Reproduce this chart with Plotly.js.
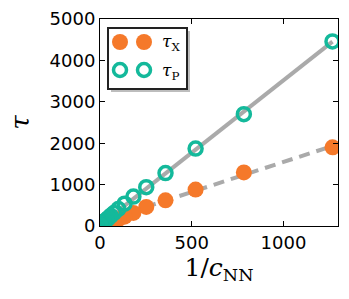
<!DOCTYPE html>
<html>
<head>
<meta charset="utf-8">
<script src="https://cdn.plot.ly/plotly-3.0.1.min.js"></script>
<style>html,body{margin:0;padding:0;background:#fff;}#chart{width:349px;height:299px;}</style>
</head>
<body>
<div id="chart"></div>
<script>
// Data
const invC = [1267, 784, 521, 357, 252, 182, 134, 100, 76, 58, 45, 35, 27, 21, 16, 12, 9, 7, 5, 3.5, 2.5, 1.5];
const tauX = [1900, 1294, 880, 620, 460, 315, 225, 165, 125, 95, 73, 57, 44, 34, 26, 20, 15, 11, 8, 6, 4, 2.5];
const tauP = [4459, 2701, 1869, 1279, 939, 711, 540, 410, 315, 245, 190, 150, 117, 92, 72, 56, 43, 34, 25, 18, 13, 8];
const fitPX = [0, 1267];
const fitPY = [20, 4455];
const fitXX = [60, 1267];
const fitXY = [184, 1934];
const xTicks = [0, 500, 1000];
const yTicks = [0, 1000, 2000, 3000, 4000, 5000];

const orange = '#f5792a';
const teal = '#14b99b';
const grey = '#aaaaaa';

const traces = [
  {x: fitPX, y: fitPY, mode: 'lines', line: {color: grey, width: 4}, showlegend: false, hoverinfo: 'skip'},
  {x: fitXX, y: fitXY, mode: 'lines', line: {color: grey, width: 4, dash: '11px,7px'}, showlegend: false, hoverinfo: 'skip'},
  {x: invC, y: tauX, mode: 'markers', marker: {color: orange, size: 16, line: {width: 0}}, showlegend: false},
  {x: invC, y: tauP, mode: 'markers', marker: {color: teal, size: 13, symbol: 'circle-open', line: {color: teal, width: 3.5}}, showlegend: false}
];

// plot area geometry (pixels)
const L = 100, R = 11, T = 19, B = 73, W = 349, H = 299;
const pw = W - L - R, ph = H - T - B;
const px = v => (v - L) / pw;
const py = v => (H - B - v) / ph;

const shapes = [
  {type: 'rect', xref: 'paper', yref: 'paper', x0: px(111), x1: px(190), y0: py(92), y1: py(31), fillcolor: '#bdbdbd', line: {width: 0}},
  {type: 'rect', xref: 'paper', yref: 'paper', x0: px(108), x1: px(187), y0: py(89), y1: py(28), fillcolor: '#ffffff', line: {color: '#222', width: 2}},
];
[120, 144].forEach(cx => {
  shapes.push({type: 'circle', xref: 'paper', yref: 'paper', xsizemode: 'pixel', ysizemode: 'pixel',
    xanchor: px(cx), yanchor: py(42), x0: -8, x1: 8, y0: -8, y1: 8, fillcolor: orange, line: {width: 0}});
  shapes.push({type: 'circle', xref: 'paper', yref: 'paper', xsizemode: 'pixel', ysizemode: 'pixel',
    xanchor: px(cx), yanchor: py(70), x0: -6.5, x1: 6.5, y0: -6.5, y1: 6.5, fillcolor: 'rgba(0,0,0,0)', line: {color: teal, width: 3.5}});
});

const annotations = [
  {xref: 'paper', yref: 'paper', x: px(160), y: py(43), xanchor: 'left', yanchor: 'middle', showarrow: false,
   text: '<i>τ</i><sub>X</sub>', font: {family: 'DejaVu Serif', size: 17, color: '#000'}},
  {xref: 'paper', yref: 'paper', x: px(160), y: py(71), xanchor: 'left', yanchor: 'middle', showarrow: false,
   text: '<i>τ</i><sub>P</sub>', font: {family: 'DejaVu Serif', size: 17, color: '#000'}}
];

const layout = {
  width: W, height: H,
  margin: {l: L, r: R, t: T, b: B, pad: 0},
  paper_bgcolor: '#fff', plot_bgcolor: '#fff',
  showlegend: false,
  font: {family: 'DejaVu Sans', size: 18, color: '#000'},
  xaxis: {
    range: [0, 1297], tickvals: xTicks, ticktext: xTicks.map(String),
    showgrid: false, zeroline: false, showline: true, linecolor: '#000', linewidth: 1, mirror: 'allticks',
    ticks: 'inside', ticklen: 5, tickcolor: '#000', tickwidth: 1,
    tickfont: {family: 'DejaVu Sans', size: 18},
    automargin: false,
    title: {text: '1/<i>c</i><sub>NN</sub>', font: {family: 'DejaVu Serif', size: 25}, standoff: 4}
  },
  yaxis: {
    range: [0, 5000], tickvals: yTicks, ticktext: yTicks.map(String),
    showgrid: false, zeroline: false, showline: true, linecolor: '#000', linewidth: 1, mirror: 'allticks',
    ticks: 'inside', ticklen: 5, tickcolor: '#000', tickwidth: 1,
    tickfont: {family: 'DejaVu Sans', size: 18},
    automargin: false,
    title: {text: '<i>τ</i>', font: {family: 'DejaVu Serif', size: 26}, standoff: 12}
  },
  shapes: shapes,
  annotations: annotations
};

Plotly.newPlot('chart', traces, layout, {displayModeBar: false, staticPlot: true});
</script>
</body>
</html>
